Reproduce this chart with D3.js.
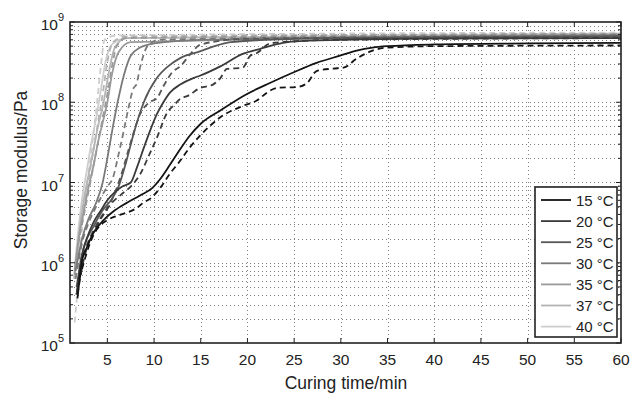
<!DOCTYPE html>
<html>
<head>
<meta charset="utf-8">
<script src="https://cdn.jsdelivr.net/npm/d3@7"></script>
<style>
  body { margin: 0; background: #fff; }
  svg { font-family: "Liberation Sans", Arial, sans-serif; }
</style>
</head>
<body>
<div id="chart-area"></div>
<script>
// curing temperatures and grey levels
const temps = ['15 °C', '20 °C', '25 °C', '30 °C', '35 °C', '37 °C', '40 °C'];
const colors = ['#141414', '#3a3a3a', '#575757', '#7a7a7a', '#9a9a9a', '#b4b4b4', '#cdcdcd'];

const xTicks = [5, 10, 15, 20, 25, 30, 35, 40, 45, 50, 55, 60];
const yTicks = [1e5, 1e6, 1e7, 1e8, 1e9];

// solid curves: time (min) and storage modulus (Pa)
const t15 = [1.8, 2.3, 2.8, 3.5, 4.6, 5.8, 7.1, 8.5, 9.8, 10.7, 11.7, 12.6, 13.8, 15, 17.1, 19.9, 22.4, 24.9, 27.4, 29.9, 31.7, 33.4, 35, 40, 50, 60];
const g15 = [3.6e5, 1.07e6, 1.55e6, 2.35e6, 3.4e6, 4.5e6, 5.6e6, 6.9e6, 8.5e6, 1.12e7, 1.66e7, 2.4e7, 3.8e7, 5.4e7, 7.9e7, 1.26e8, 1.74e8, 2.35e8, 3.1e8, 3.8e8, 4.4e8, 4.8e8, 5.0e8, 5.25e8, 5.4e8, 5.5e8];
const t20 = [1.7, 2.2, 2.8, 3.5, 4.3, 5.0, 5.8, 6.6, 7.5, 8.2, 8.9, 9.6, 10.3, 11.0, 11.7, 12.8, 14.2, 14.9, 17.1, 19.5, 21.3, 23.8, 25, 30, 40, 60];
const g20 = [4.0e5, 1.12e6, 2.0e6, 3.16e6, 4.47e6, 6.0e6, 7.6e6, 8.9e6, 1.0e7, 1.58e7, 2.7e7, 4.5e7, 7.1e7, 1.0e8, 1.32e8, 1.66e8, 2.0e8, 2.14e8, 2.8e8, 4.0e8, 4.6e8, 5.5e8, 5.75e8, 6.0e8, 6.2e8, 6.3e8];
const t25 = [1.7, 2.5, 3.5, 4.5, 5.5, 6.2, 7.0, 7.8, 8.9, 10.3, 11.5, 12.8, 14.9, 16.5, 18.2, 22, 30, 60];
const g25 = [5.0e5, 1.58e6, 2.8e6, 4.5e6, 6.3e6, 8.9e6, 1.78e7, 4.0e7, 1.0e8, 2.0e8, 2.8e8, 3.55e8, 4.3e8, 5.0e8, 5.6e8, 6.0e8, 6.3e8, 6.6e8];
const t30 = [1.6, 2.3, 3, 3.8, 4.5, 5, 5.6, 6.1, 6.8, 7.5, 8.5, 10, 15, 60];
const g30 = [7.9e5, 2.0e6, 3.55e6, 5.6e6, 1.0e7, 2.0e7, 5.0e7, 1.0e8, 2.24e8, 3.8e8, 4.8e8, 5.4e8, 6.0e8, 6.8e8];
const t35 = [1.5, 2, 2.5, 3, 3.5, 4, 4.5, 5, 5.5, 6.2, 7.5, 60];
const g35 = [7.9e5, 2.24e6, 4.5e6, 8.9e6, 1.58e7, 3.16e7, 5.6e7, 1.0e8, 2.24e8, 4.2e8, 5.6e8, 6.9e8];
const t37 = [1.5, 2, 2.5, 3, 3.5, 4, 4.6, 5.2, 5.8, 7, 60];
const g37 = [7.9e5, 2.5e6, 6.3e6, 1.26e7, 2.5e7, 5.0e7, 1.0e8, 2.5e8, 4.8e8, 6.3e8, 7.1e8];
const t40 = [1.4, 1.8, 2.3, 2.8, 3.3, 3.8, 4.3, 4.8, 5.5, 7, 60];
const g40 = [6.3e5, 2.0e6, 6.3e6, 1.41e7, 3.16e7, 6.3e7, 1.41e8, 3.16e8, 5.25e8, 6.3e8, 7.2e8];

// dashed curves (second run)
const t15d = [2.0, 2.6, 3.0, 3.5, 4.2, 5.0, 6.5, 8.0, 9.0, 9.6, 10.7, 11.7, 12.6, 13.9, 14.9, 16, 17.1, 19.6, 21, 22.1, 23.2, 25.3, 26.4, 27.4, 29.2, 30.3, 31.7, 33.4, 35, 40, 60];
const g15d = [6.3e5, 1.12e6, 1.58e6, 2.2e6, 2.9e6, 3.4e6, 4.0e6, 4.7e6, 5.75e6, 6.3e6, 8.7e6, 1.29e7, 1.74e7, 2.8e7, 3.8e7, 5.1e7, 6.5e7, 9.1e7, 1.05e8, 1.32e8, 1.51e8, 1.55e8, 1.74e8, 2.45e8, 2.63e8, 2.7e8, 3.5e8, 4.4e8, 4.8e8, 5.0e8, 5.1e8];
const t20d = [1.8, 2.4, 3.0, 3.8, 4.6, 5.5, 6.5, 7.5, 8.5, 9.5, 10.3, 11.4, 12.1, 12.8, 13.6, 14.9, 16.3, 17.1, 17.8, 19.5, 20.3, 21, 22.4, 25, 30, 60];
const g20d = [4.0e5, 1.0e6, 1.78e6, 2.8e6, 4.0e6, 5.6e6, 7.1e6, 8.9e6, 1.26e7, 2.24e7, 3.6e7, 7.4e7, 9.1e7, 1.1e8, 1.2e8, 1.5e8, 1.66e8, 2.0e8, 2.6e8, 2.7e8, 3.8e8, 4.1e8, 5.4e8, 5.75e8, 6.0e8, 6.3e8];
const t25d = [1.7, 2.5, 3.5, 4.5, 5.3, 6.5, 7.5, 8.5, 9.5, 10.3, 11, 12, 12.8, 13.9, 15, 20, 60];
const g25d = [4.0e5, 1.26e6, 2.5e6, 4.0e6, 5.5e6, 1.26e7, 3.16e7, 7.1e7, 1.0e8, 1.12e8, 1.58e8, 2.4e8, 2.8e8, 4.0e8, 5.25e8, 6.2e8, 6.6e8];
const t30d = [1.6, 2.3, 3, 3.8, 4.5, 5.0, 5.6, 6.2, 6.7, 7.3, 7.8, 8.1, 8.5, 9.3, 10.5, 60];
const g30d = [6.3e5, 1.78e6, 3.16e6, 5.0e6, 7.1e6, 8.9e6, 1.15e7, 2.24e7, 4.1e7, 8.9e7, 1.5e8, 1.66e8, 2.7e8, 5.0e8, 6.0e8, 6.9e8];
const t35d = [1.5, 2, 2.5, 3, 3.5, 4, 4.5, 5, 5.5, 6, 7, 60];
const g35d = [7.1e5, 2.0e6, 4.0e6, 7.9e6, 1.58e7, 3.16e7, 6.3e7, 1.26e8, 2.8e8, 5.0e8, 6.3e8, 7.1e8];
const t37d = [1.5, 2, 2.5, 3, 3.5, 4, 4.5, 5, 5.6, 7, 60];
const g37d = [6.3e5, 2.24e6, 5.6e6, 1.12e7, 2.5e7, 5.6e7, 1.26e8, 3.16e8, 5.6e8, 6.6e8, 7.1e8];
const t40d = [1.5, 1.9, 2.2, 2.5, 2.9, 3.4, 3.9, 4.3, 4.7, 6, 60];
const g40d = [1.8e5, 6.3e5, 2.0e6, 5.0e6, 1.12e7, 3.16e7, 1.0e8, 2.8e8, 6.0e8, 6.8e8, 7.4e8];

const solid = [[t15, g15], [t20, g20], [t25, g25], [t30, g30], [t35, g35], [t37, g37], [t40, g40]];
const dashed = [[t15d, g15d], [t20d, g20d], [t25d, g25d], [t30d, g30d], [t35d, g35d], [t37d, g37d], [t40d, g40d]];

const W = 630, H = 393;
const pLeft = 70, pRight = 621, pTop = 22, pBottom = 343;

const x = d3.scaleLinear().domain([1, 60]).range([pLeft, pRight]);
const y = d3.scaleLog().domain([1e5, 1e9]).range([pBottom, pTop]);

const svg = d3.select("#chart-area")
  .append("svg")
    .attr("width", W)
    .attr("height", H);

// minor log values for grid and ticks
const minor = [];
for (let e = 5; e < 9; e++) {
  for (let m = 2; m <= 9; m++) minor.push(m * Math.pow(10, e));
}

const grid = svg.append("g")
  .attr("stroke", "#808080")
  .attr("stroke-width", 1)
  .attr("stroke-dasharray", "1,3");

grid.selectAll(".gx")
  .data(xTicks.slice(0, -1))
  .join("line")
  .attr("x1", d => Math.round(x(d)) + 0.5)
  .attr("x2", d => Math.round(x(d)) + 0.5)
  .attr("y1", pTop)
  .attr("y2", pBottom);

grid.selectAll(".gy")
  .data(yTicks.slice(1, -1).concat(minor))
  .join("line")
  .attr("x1", pLeft)
  .attr("x2", pRight)
  .attr("y1", d => Math.round(y(d)) + 0.5)
  .attr("y2", d => Math.round(y(d)) + 0.5);

// curves
const line = d3.line()
  .x(d => x(d[0]))
  .y(d => y(d[1]))
  .curve(d3.curveMonotoneX);

const curves = svg.append("g").attr("fill", "none").attr("stroke-width", 1.8);

// draw from lightest to darkest so dark lines stay on top
for (let i = temps.length - 1; i >= 0; i--) {
  const ds = dashed[i][0].map((t, j) => [t, dashed[i][1][j]]);
  const ss = solid[i][0].map((t, j) => [t, solid[i][1][j]]);
  curves.append("path")
    .attr("d", line(ds))
    .attr("stroke", colors[i])
    .attr("stroke-dasharray", "6,4");
  curves.append("path")
    .attr("d", line(ss))
    .attr("stroke", colors[i]);
}

// axes box
svg.append("rect")
  .attr("x", pLeft).attr("y", pTop)
  .attr("width", pRight - pLeft).attr("height", pBottom - pTop)
  .attr("fill", "none")
  .attr("stroke", "#222")
  .attr("stroke-width", 1.6);

// inward ticks on all four sides
const tk = svg.append("g").attr("stroke", "#222").attr("stroke-width", 1);
tk.selectAll(".tb")
  .data(xTicks)
  .join("line")
  .attr("x1", d => x(d)).attr("x2", d => x(d))
  .attr("y1", pBottom).attr("y2", pBottom - 5);
tk.selectAll(".tt")
  .data(xTicks)
  .join("line")
  .attr("x1", d => x(d)).attr("x2", d => x(d))
  .attr("y1", pTop).attr("y2", pTop + 5);
tk.selectAll(".tl")
  .data(yTicks.concat(minor))
  .join("line")
  .attr("x1", pLeft).attr("x2", d => pLeft + (yTicks.includes(d) ? 5 : 3))
  .attr("y1", d => y(d)).attr("y2", d => y(d));
tk.selectAll(".tr")
  .data(yTicks.concat(minor))
  .join("line")
  .attr("x1", pRight).attr("x2", d => pRight - (yTicks.includes(d) ? 5 : 3))
  .attr("y1", d => y(d)).attr("y2", d => y(d));

// tick labels
svg.append("g")
  .attr("font-size", 15.5)
  .attr("fill", "#222")
  .attr("text-anchor", "middle")
  .selectAll("text")
  .data(xTicks)
  .join("text")
  .attr("x", d => x(d))
  .attr("y", 365)
  .text(d => d);

const yl = svg.append("g")
  .attr("font-size", 15.5)
  .attr("fill", "#222")
  .attr("text-anchor", "end")
  .selectAll("text")
  .data(yTicks)
  .join("text")
  .attr("x", 64)
  .attr("y", d => y(d) + 8);
yl.append("tspan").text("10");
yl.append("tspan")
  .attr("font-size", 11)
  .attr("dy", -9)
  .text(d => Math.round(Math.log10(d)));

// axis titles
svg.append("text")
  .attr("x", 346)
  .attr("y", 389)
  .attr("text-anchor", "middle")
  .attr("font-size", 17.5)
  .attr("fill", "#222")
  .text("Curing time/min");

svg.append("text")
  .attr("transform", "translate(27,170) rotate(-90)")
  .attr("text-anchor", "middle")
  .attr("font-size", 17.5)
  .attr("fill", "#222")
  .text("Storage modulus/Pa");

// legend
const lg = svg.append("g");
lg.append("rect")
  .attr("x", 535).attr("y", 187)
  .attr("width", 82).attr("height", 150)
  .attr("fill", "#fff")
  .attr("stroke", "#222")
  .attr("stroke-width", 1.6);

const items = lg.selectAll(".item")
  .data(temps)
  .join("g")
  .attr("transform", (d, i) => "translate(0," + (200 + i * 21.1) + ")");
items.append("line")
  .attr("x1", 541).attr("x2", 571)
  .attr("stroke", (d, i) => colors[i])
  .attr("stroke-width", 1.8);
items.append("text")
  .attr("x", 576)
  .attr("y", 5.5)
  .attr("font-size", 15)
  .attr("fill", "#222")
  .text(d => d);
</script>
</body>
</html>
